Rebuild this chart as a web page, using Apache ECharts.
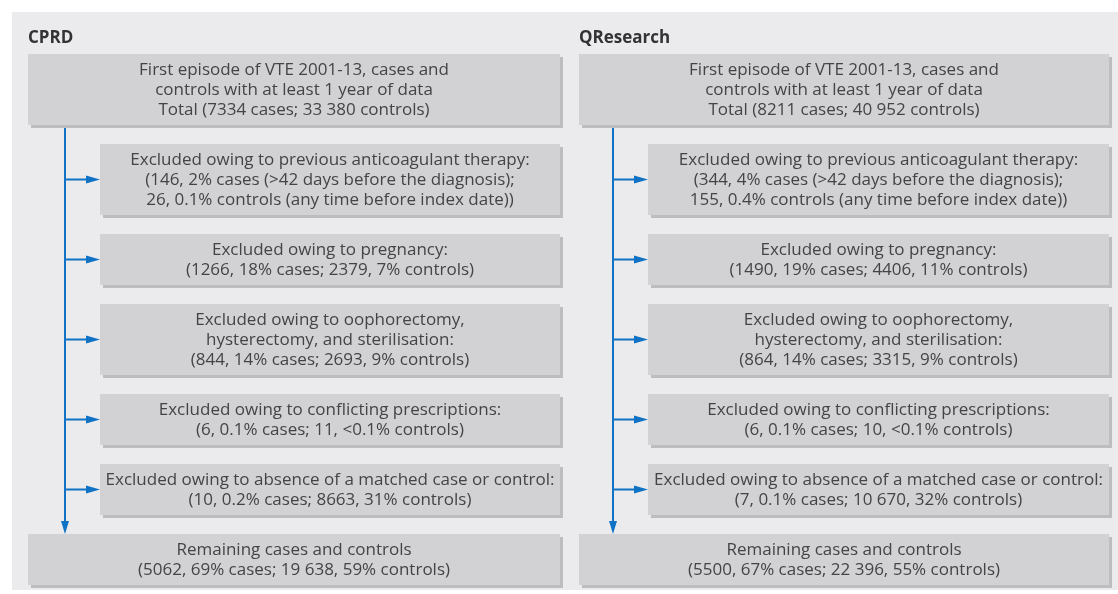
<!DOCTYPE html>
<html><head><meta charset="utf-8">
<script src="https://cdn.jsdelivr.net/npm/echarts@6/dist/echarts.min.js"></script>
<style>html,body{margin:0;padding:0;background:#fff}#c{width:1118px;height:594px}</style>
</head><body><div id="c"></div><script>
// ---- data ----
const panels = ['CPRD', 'QResearch'];
const stepHeaders = [
  ['First episode of VTE 2001-13, cases and', 'controls with at least 1 year of data'],
  ['Excluded owing to previous anticoagulant therapy:'],
  ['Excluded owing to pregnancy:'],
  ['Excluded owing to oophorectomy,', 'hysterectomy, and sterilisation:'],
  ['Excluded owing to conflicting prescriptions:'],
  ['Excluded owing to absence of a matched case or control:'],
  ['Remaining cases and controls']
];
const cprdCases       = ['7334', '146', '1266', '844', '6', '10', '5062'];
const cprdCasesPct    = ['', '2%', '18%', '14%', '0.1%', '0.2%', '69%'];
const cprdControls    = ['33 380', '26', '2379', '2693', '11', '8663', '19 638'];
const cprdControlsPct = ['', '0.1%', '7%', '9%', '<0.1%', '31%', '59%'];
const qCases          = ['8211', '344', '1490', '864', '6', '7', '5500'];
const qCasesPct       = ['', '4%', '19%', '14%', '0.1%', '0.1%', '67%'];
const qControls       = ['40 952', '155', '4406', '3315', '10', '10 670', '22 396'];
const qControlsPct    = ['', '0.4%', '11%', '9%', '<0.1%', '32%', '55%'];

// ---- text building ----
function boxLines(r, cases, casesPct, controls, controlsPct) {
  const lines = stepHeaders[r].slice();
  if (r === 0) {
    lines.push('Total (' + cases[r] + ' cases; ' + controls[r] + ' controls)');
  } else if (r === 1) {
    lines.push('(' + cases[r] + ', ' + casesPct[r] + ' cases (>42 days before the diagnosis);');
    lines.push(controls[r] + ', ' + controlsPct[r] + ' controls (any time before index date))');
  } else {
    lines.push('(' + cases[r] + ', ' + casesPct[r] + ' cases; ' + controls[r] + ', ' + controlsPct[r] + ' controls)');
  }
  return lines;
}
const panelData = [
  [cprdCases, cprdCasesPct, cprdControls, cprdControlsPct],
  [qCases, qCasesPct, qControls, qControlsPct]
];
const texts = panelData.map(d => stepHeaders.map((_, r) => boxLines(r, d[0], d[1], d[2], d[3])));

// ---- layout (pixels, styles) ----
const FONT = '"Open Sans", "Noto Sans", sans-serif';
const FS = 17, LH = 20;
const colLayout = [
  { boxL: 28, boxR: 560, exL: 100, lineX: 65, titleX: 28 },
  { boxL: 579, boxR: 1109, exL: 648, lineX: 613, titleX: 579 }
];
const TOP0 = 54, GAP = 19;
function rowGeom(p, r) {
  let y = TOP0;
  for (let i = 0; i < r; i++) y += (11 + LH * texts[p][i].length) + GAP;
  return { top: y, h: 11 + LH * texts[p][r].length };
}
const C_BOX = '#d2d2d4', C_SHADOW = '#bdbdbf', C_TEXT = '#444446', C_BLUE = '#0f72c4';

const boxItems = [];
panels.forEach((_, p) => stepHeaders.forEach((__, r) => boxItems.push([p, r])));

function renderBox(params, api) {
  const p = api.value(0), r = api.value(1);
  const L = colLayout[p];
  const g = rowGeom(p, r);
  const x0 = (r === 0 || r === stepHeaders.length - 1) ? L.boxL : L.exL;
  const x1 = L.boxR;
  const a = api.coord([x0, g.top]);
  const b = api.coord([x1, g.top + g.h]);
  const w = b[0] - a[0], h = b[1] - a[1];
  return {
    type: 'group',
    children: [
      { type: 'rect', shape: { x: a[0] + 3, y: a[1] + 3, width: w, height: h }, style: { fill: C_SHADOW } },
      { type: 'rect', shape: { x: a[0], y: a[1], width: w, height: h }, style: { fill: C_BOX } },
      { type: 'text', style: {
          text: texts[p][r].join('\n'), x: a[0] + w / 2, y: a[1] + h / 2 + 0.5,
          align: 'center', verticalAlign: 'middle', fill: C_TEXT,
          fontSize: FS, fontFamily: FONT, lineHeight: LH } }
    ]
  };
}

function renderConnector(params, api) {
  const p = api.value(0);
  const L = colLayout[p];
  const n = stepHeaders.length;
  const g0 = rowGeom(p, 0), gl = rowGeom(p, n - 1);
  const top = api.coord([L.lineX, g0.top + g0.h]);
  const bot = api.coord([L.lineX, gl.top]);
  const children = [
    { type: 'line', shape: { x1: top[0], y1: top[1], x2: bot[0], y2: bot[1] - 10 }, style: { stroke: C_BLUE, lineWidth: 2 } },
    { type: 'polygon', shape: { points: [[bot[0] - 4, bot[1] - 13], [bot[0] + 4, bot[1] - 13], [bot[0], bot[1]]] }, style: { fill: C_BLUE } }
  ];
  for (let r = 1; r < n - 1; r++) {
    const g = rowGeom(p, r);
    const s = api.coord([L.lineX, g.top + g.h / 2]);
    const e = api.coord([L.exL, g.top + g.h / 2]);
    children.push({ type: 'line', shape: { x1: s[0], y1: s[1], x2: e[0] - 12, y2: e[1] }, style: { stroke: C_BLUE, lineWidth: 2 } });
    children.push({ type: 'polygon', shape: { points: [[e[0] - 14, e[1] - 4], [e[0] - 14, e[1] + 4], [e[0], e[1]]] }, style: { fill: C_BLUE } });
  }
  return { type: 'group', children };
}

const chart = echarts.init(document.getElementById('c'));
chart.setOption({
  animation: false,
  backgroundColor: '#ffffff',
  title: panels.map((t, p) => ({
    text: t, left: colLayout[p].titleX, top: 30, padding: 0,
    textStyle: { fontSize: 17, fontWeight: 'bold', color: '#333335', fontFamily: FONT }
  })),
  grid: { left: 12, top: 12, right: 0, bottom: 4, show: true, backgroundColor: '#ebebed', borderWidth: 0 },
  xAxis: { type: 'value', min: 12, max: 1118, show: false },
  yAxis: { type: 'value', min: 12, max: 590, inverse: true, show: false },
  series: [
    { type: 'custom', coordinateSystem: 'cartesian2d', silent: true, clip: false, renderItem: renderConnector, data: panels.map((_, p) => [p, 0]), z: 2 },
    { type: 'custom', coordinateSystem: 'cartesian2d', silent: true, clip: false, renderItem: renderBox, data: boxItems, z: 3 }
  ]
});
</script></body></html>
